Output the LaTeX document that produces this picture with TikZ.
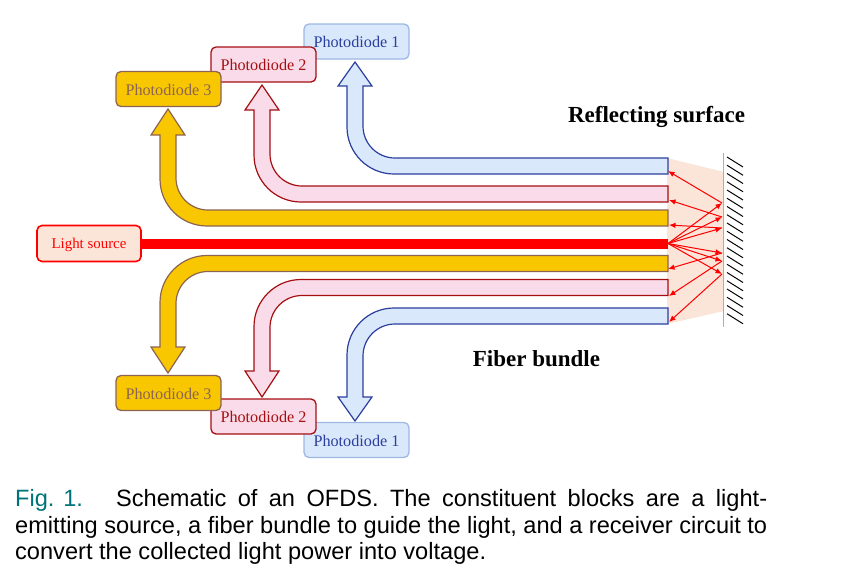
\documentclass[tikz,border=0pt]{standalone}
\usepackage{fontspec}
\setmainfont{Liberation Serif}
\newfontfamily\capfont{Liberation Sans}
\usetikzlibrary{arrows.meta}
\definecolor{bluefill}{HTML}{DAE8FC}
\definecolor{bluedraw}{HTML}{2B3F9E}
\definecolor{bluebox}{HTML}{9DB8E3}
\definecolor{pinkfill}{HTML}{FADBEA}
\definecolor{pinkdraw}{HTML}{A50F12}
\definecolor{goldfill}{HTML}{F9C700}
\definecolor{golddraw}{HTML}{8C6454}
\definecolor{peach}{HTML}{FBE5D8}
\definecolor{lineblue}{HTML}{8DB6DD}
\definecolor{captealblue}{HTML}{00737A}
\tikzset{
  x=1pt,y=-1pt,
  pd/.style={rounded corners=5pt,minimum width=#1,minimum height=35pt,inner sep=0pt,text height=12.8pt,text depth=0pt,font=\fontsize{16.2}{18}\selectfont,line width=1.3pt},
  pd/.default=105pt,
  pd1/.style={pd,draw=bluebox,fill=bluefill,text=bluedraw},
  pd2/.style={pd,draw=pinkdraw,fill=pinkfill,text=pinkdraw},
  pd3/.style={pd,draw=golddraw,fill=goldfill,text=golddraw},
  tube/.style={line width=1.2pt,line join=miter},
  ray1/.style={red,line width=1pt,-{Latex[length=6.5pt,width=5.5pt]}},
  head/.style={font=\fontsize{23}{26}\selectfont\bfseries,inner sep=0pt},
  captext/.style={anchor=west,inner sep=0pt,font=\fontsize{23.6}{28}\capfont},
}
\newcommand{\uptube}[7]{%
  \filldraw[tube,#7] (668,#3) -- ({#2+32},#3) arc[start angle=270,end angle=180,radius=32pt] -- (#2,#6) -- ({#2+9},#6)
   -- ({(#1+#2)/2},#5) -- ({#1-9},#6) -- (#1,#6) -- (#1,{#4-47}) arc[start angle=180,end angle=270,radius=47pt] -- (668,#4) -- cycle;}
\newcommand{\dntube}[7]{%
  \filldraw[tube,#7] (668,#4) -- ({#2+32},#4) arc[start angle=90,end angle=180,radius=32pt] -- (#2,#6) -- ({#2+9},#6)
   -- ({(#1+#2)/2},#5) -- ({#1-9},#6) -- (#1,#6) -- (#1,{#3+47}) arc[start angle=180,end angle=90,radius=47pt] -- (668,#3) -- cycle;}
\begin{document}
\begin{tikzpicture}
\useasboundingbox (0,0) rectangle (845,571);
% peach beam
\fill[peach] (667,158) -- (724,172) -- (724,311) -- (667,324) -- cycle;
% boxes top
\node[pd1] (p1t) at (356.5,41.5) {Photodiode 1};
\node[pd2] (p2t) at (263.5,64.5) {Photodiode 2};
\node[pd3] (p3t) at (168.5,89) {Photodiode 3};
% boxes bottom
\node[pd1] (p1b) at (356.5,440) {Photodiode 1};
\node[pd2] (p2b) at (263.5,416.5) {Photodiode 2};
\node[pd3] (p3b) at (168.5,393) {Photodiode 3};
% tubes
\uptube{347}{363}{158}{174}{62}{86}{draw=bluedraw,fill=bluefill}
\uptube{254}{270}{186}{202}{85}{110}{draw=pinkdraw,fill=pinkfill}
\uptube{160}{176}{210}{226}{109}{135}{draw=golddraw,fill=goldfill}
\dntube{160}{176}{255.5}{271.5}{373}{347}{draw=golddraw,fill=goldfill}
\dntube{254}{270}{279.5}{295.5}{397}{371}{draw=pinkdraw,fill=pinkfill}
\dntube{347}{363}{308}{324}{421}{397}{draw=bluedraw,fill=bluefill}
% source
\node[pd=104pt,minimum height=36pt,draw=red,fill=peach,text=red,line width=1.6pt,text height=10.4pt,font=\fontsize{14.9}{17}\selectfont] (src) at (89,243.5) {Light source};
\coordinate (srce) at (668,243.5);
\fill[red] (141,238.5) rectangle (668,248.5);
% surface
\draw[lineblue,line width=1.1pt] (723.5,153) -- (723.5,327);
\foreach \i in {0,...,19} \draw[black,line width=1pt] (727,{157+8.25*\i}) -- (743,{167+8.25*\i});
% rays
\coordinate (a1) at (722,203);
\coordinate (a2) at (722,217);
\coordinate (a3) at (722,228);
\coordinate (a4) at (722,253);
\coordinate (a5) at (722,261);
\coordinate (a6) at (722,274);
\coordinate (b1) at (668,171);
\coordinate (b2) at (669,200);
\coordinate (b3) at (669,225);
\coordinate (b4) at (668,269);
\coordinate (b5) at (669,296);
\coordinate (b6) at (669,322);
\foreach \p in {a1,a2,a3,a4,a5,a6} \draw[ray1] (srce) -- (\p);
\foreach \p/\q in {a1/b1,a2/b2,a3/b3,a4/b4,a5/b5,a6/b6} \draw[ray1] (\p) -- (\q);
% labels
\node[head] (rs) at (656.5,117) {Reflecting surface};
\node[head] (fb) at (536.5,358.5) {Fiber bundle};
% caption
\node[captext] (c1) at (15,500) {\hbox to 752pt{\makebox[101pt][l]{\textcolor{captealblue}{Fig. 1.}}Schematic of an OFDS. The constituent blocks are a light-}};
\node[captext] (c2) at (15,527) {\hbox to 752pt{emitting source, a fiber bundle to guide the light, and a receiver circuit to}};
\node[captext] (c3) at (15,553.5) {convert the collected light power into voltage.};
\end{tikzpicture}
\end{document}
